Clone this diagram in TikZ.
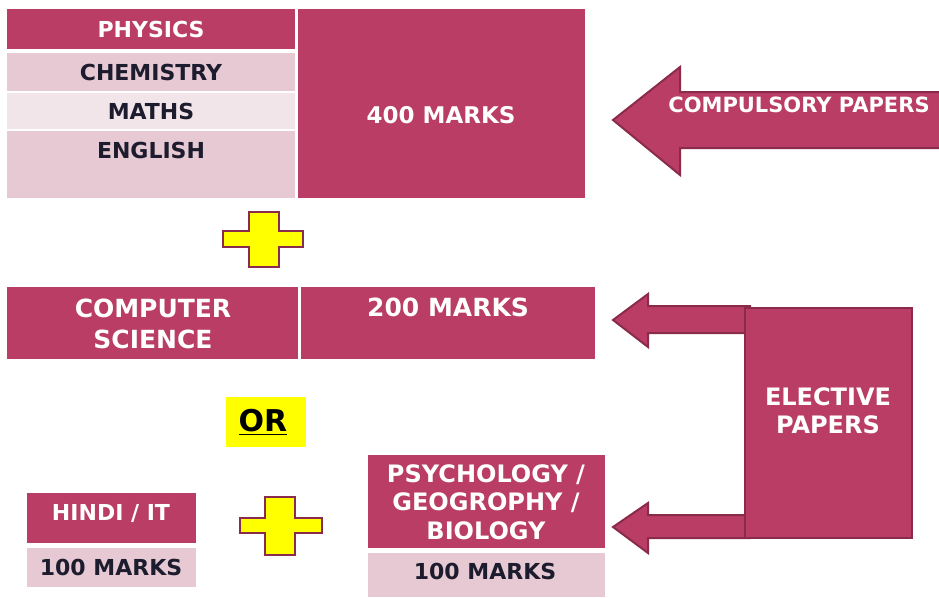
\documentclass[tikz,border=0pt]{standalone}
\usepackage{fontspec}
\setmainfont{DejaVu Sans}
\definecolor{dk}{HTML}{B93D64}
\definecolor{lt}{HTML}{E6C9D2}
\definecolor{lt2}{HTML}{F2E5EA}
\definecolor{edge}{HTML}{8A2B4B}
\definecolor{ink}{HTML}{1C1C2E}
\definecolor{yel}{HTML}{FFFF00}
\begin{document}
\begin{tikzpicture}[x=1pt,y=-1pt,
  cell/.style={anchor=north west, inner sep=0pt, outer sep=0pt, draw=none},
  dkcell/.style={cell, fill=dk},
  ltcell/.style={cell, fill=lt},
  lt2cell/.style={cell, fill=lt2},
  wtxt/.style 2 args={text=white, font=\fontsize{#1}{#2}\selectfont\bfseries, align=center, inner sep=0pt},
  ktxt/.style={text=ink, font=\fontsize{#1}{#1}\selectfont\bfseries, align=center, inner sep=0pt},
  blockarrow/.style={fill=dk, draw=edge, line width=2pt, line join=miter},
  plusmark/.style={fill=yel, draw=edge, line width=2.5pt, line join=miter}]
\useasboundingbox (0,0) rectangle (939,597);

% top table
\node[dkcell, minimum width=288, minimum height=40] (phy) at (7,9) {};
\node[ltcell, minimum width=288, minimum height=38] (chem) at (7,53) {};
\node[lt2cell, minimum width=288, minimum height=36] (math) at (7,93) {};
\node[ltcell, minimum width=288, minimum height=67] (eng) at (7,131) {};
\node[dkcell, minimum width=287, minimum height=189] (m400) at (298,9) {};
\node[wtxt={22}{26}] (tphy) at (phy.center) {PHYSICS};
\node[ktxt=22] (tchem) at (chem.center) {CHEMISTRY};
\node[ktxt=22] (tmath) at (math.center) {MATHS};
\node[ktxt=22] (teng) at (151,150) {ENGLISH};
\node[wtxt={23}{27}] (t400) at (441,115) {400 MARKS};

% compulsory arrow
\draw[blockarrow] (613,120) -- (680,67) -- (680,92) -- (945,92) -- (945,148) -- (680,148) -- (680,175) -- cycle;
\node[wtxt={21}{25}] (tcomp) at (799,105) {COMPULSORY PAPERS};

% plus 1
\draw[plusmark] (249,212) -- (279,212) -- (279,231) -- (303,231) -- (303,247) -- (279,247) -- (279,267) -- (249,267) -- (249,247) -- (223,247) -- (223,231) -- (249,231) -- cycle;

% computer science row
\node[dkcell, minimum width=291, minimum height=72] (cs) at (7,287) {};
\node[dkcell, minimum width=294, minimum height=72] (m200) at (301,287) {};
\node[wtxt={25}{31}] (tcs) at (153,324) {COMPUTER\\SCIENCE};
\node[wtxt={25}{31}] (t200) at (448,307) {200 MARKS};

% OR
\node[cell, fill=yel, minimum width=80, minimum height=50] (orbox) at (226,397) {};
\node[text=black, font=\fontsize{30}{30}\selectfont\bfseries, inner sep=0pt] (tor) at (263,422) {\underline{OR}};

% hindi
\node[dkcell, minimum width=169, minimum height=50] (hin) at (27,493) {};
\node[ltcell, minimum width=169, minimum height=39] (h100) at (27,548) {};
\node[wtxt={22}{26}] (thin) at (111,513) {HINDI / IT};
\node[ktxt=22] (th100) at (111,567) {100 MARKS};

% plus 2
\draw[plusmark] (265,497) -- (295,497) -- (295,518) -- (322,518) -- (322,533) -- (295,533) -- (295,555) -- (265,555) -- (265,533) -- (240,533) -- (240,518) -- (265,518) -- cycle;

% psychology
\node[dkcell, minimum width=237, minimum height=93] (psy) at (368,455) {};
\node[ltcell, minimum width=237, minimum height=44] (p100) at (368,553) {};
\node[wtxt={24}{28.5}] (tpsy) at (486,502) {PSYCHOLOGY /\\GEOGROPHY /\\BIOLOGY};
\node[ktxt=22] (tp100) at (485,571) {100 MARKS};

% elective arrows and box
\draw[blockarrow] (613,320) -- (648,294) -- (648,306) -- (750,306) -- (750,333) -- (648,333) -- (648,347) -- cycle;
\draw[blockarrow] (613,527) -- (648,503) -- (648,515) -- (750,515) -- (750,538) -- (648,538) -- (648,553) -- cycle;
\node[cell, fill=dk, draw=edge, line width=2pt, minimum width=167, minimum height=230] (elec) at (745,308) {};
\node[wtxt={24}{28.5}] (telec) at (828,411) {ELECTIVE\\PAPERS};
\end{tikzpicture}
\end{document}
